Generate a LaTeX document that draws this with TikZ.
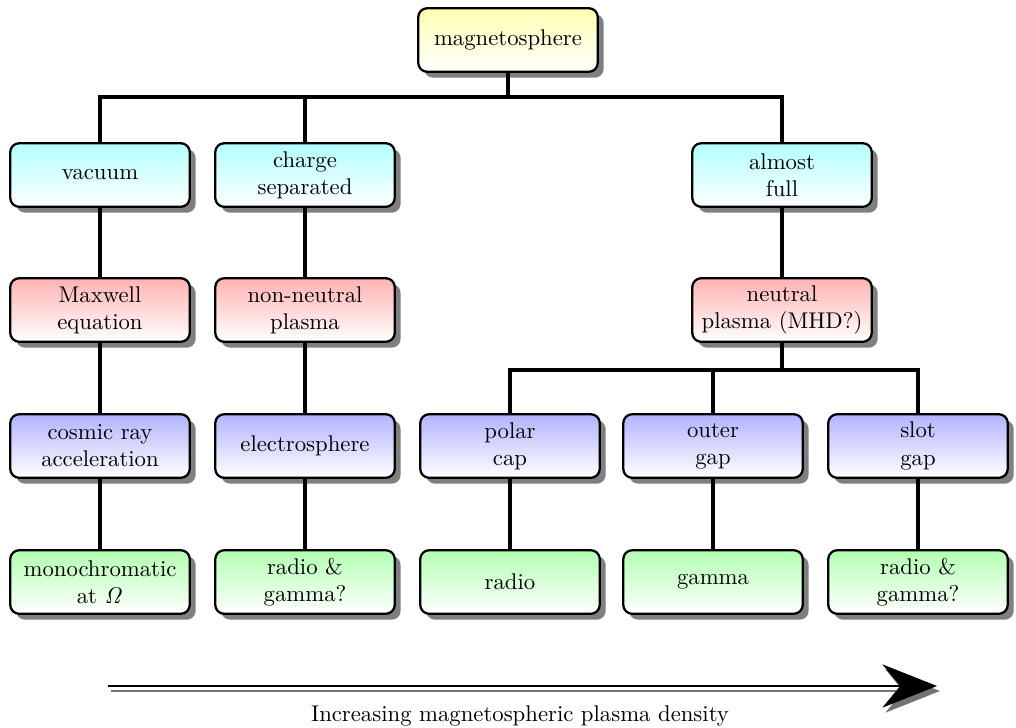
\documentclass[tikz,border=0pt]{standalone}
\usetikzlibrary{shadows,arrows.meta,backgrounds}
\begin{document}
\begin{tikzpicture}[x=0.44pt,y=-0.44pt,
  box/.style={draw=black,line width=1pt,rounded corners=4pt,align=center,
    minimum width=79pt,minimum height=28pt,inner sep=2pt,
    drop shadow={shadow xshift=2.6pt,shadow yshift=-2.6pt,fill=black,opacity=0.5},
    bottom color=white},
  ybox/.style={box,top color=yellow!30},
  cbox/.style={box,top color=cyan!30},
  rbox/.style={box,top color=red!30},
  bbox/.style={box,top color=blue!30},
  gbox/.style={box,top color=green!30},
  conn/.style={line width=2pt}]
\useasboundingbox (0,0) rectangle (1016,727);
% row 1
\node[ybox] (mag) at (508,40) {magnetosphere};
% row 2
\node[cbox] (vac) at (100,175) {vacuum};
\node[cbox] (chs) at (305,175) {charge\\separated};
\node[cbox] (alm) at (782,175) {almost\\full};
% row 3
\node[rbox] (max) at (100,310) {Maxwell\\equation};
\node[rbox] (nnp) at (305,310) {non-neutral\\plasma};
\node[rbox] (neu) at (782,310) {neutral\\plasma (MHD?)};
% row 4
\node[bbox] (cos) at (100,446) {cosmic ray\\acceleration};
\node[bbox] (ele) at (305,446) {electrosphere};
\node[bbox] (pol) at (510,446) {polar\\cap};
\node[bbox] (out) at (713,446) {outer\\gap};
\node[bbox] (slo) at (918,446) {slot\\gap};
% row 5
\node[gbox] (mon) at (100,582) {monochromatic\\at $\mathit{\Omega}$};
\node[gbox] (rg1) at (305,582) {radio \&\\gamma?};
\node[gbox] (rad) at (510,582) {radio};
\node[gbox] (gam) at (713,582) {gamma};
\node[gbox] (rg2) at (918,582) {radio \&\\gamma?};
% connectors
\begin{scope}[on background layer]
\draw[conn] (mag.south) -- (mag.south |- 0,97) -| (vac.north);
\draw[conn] (mag.south) -- (mag.south |- 0,97) -| (chs.north);
\draw[conn] (mag.south) -- (mag.south |- 0,97) -| (alm.north);
\draw[conn] (vac) -- (max);
\draw[conn] (chs) -- (nnp);
\draw[conn] (alm) -- (neu);
\draw[conn] (max) -- (cos);
\draw[conn] (nnp) -- (ele);
\draw[conn] (neu.south) -- (neu.south |- 0,370) -| (pol.north);
\draw[conn] (neu.south) -- (neu.south |- 0,370) -| (out.north);
\draw[conn] (neu.south) -- (neu.south |- 0,370) -| (slo.north);
\draw[conn] (cos) -- (mon);
\draw[conn] (ele) -- (rg1);
\draw[conn] (pol) -- (rad);
\draw[conn] (out) -- (gam);
\draw[conn] (slo) -- (rg2);
\end{scope}
% arrow
\coordinate (as) at (108,686);
\coordinate (ae) at (937,686);
\draw[line width=1.3pt,black!55,-{Stealth[length=24pt,width=19pt]}] ([shift={(3,5)}]as) -- ([shift={(3,5)}]ae);
\draw[line width=1.3pt,-{Stealth[length=24pt,width=19pt]}] (as) -- (ae);
\node (lbl) at (520,716) {Increasing magnetospheric plasma density};
\end{tikzpicture}
\end{document}
